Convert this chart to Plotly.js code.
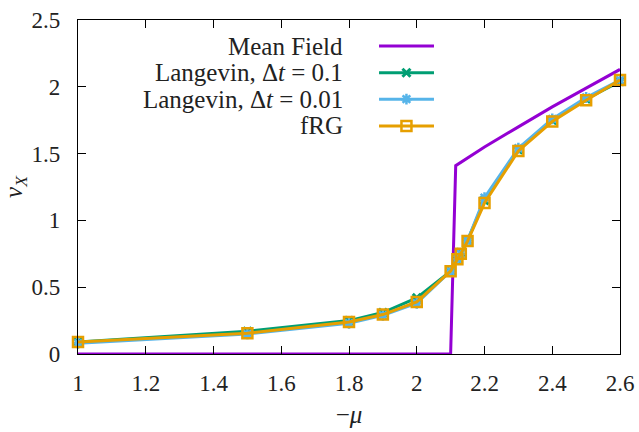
<!DOCTYPE html>
<html>
<head>
<meta charset="utf-8">
<script src="https://cdn.plot.ly/plotly-3.0.1.min.js"></script>
<style>
html,body{margin:0;padding:0;background:#fff;}
#chart{width:639px;height:432px;}
</style>
</head>
<body>
<div id="chart"></div>
<script>
// ---- data ----
const muMF = [1, 2.1, 2.115, 2.15, 2.2, 2.3, 2.4, 2.5, 2.6];
const nuMF = [0, 0, 1.41, 1.47, 1.55, 1.70, 1.85, 1.99, 2.13];

const mu = [1, 1.5, 1.8, 1.9, 2.0, 2.1, 2.12, 2.13, 2.15, 2.2, 2.3, 2.4, 2.5, 2.6];
const nuLang01  = [0.09, 0.17, 0.25, 0.31, 0.42, 0.62, 0.71, 0.76, 0.85, 1.15, 1.53, 1.75, 1.91, 2.04];
const nuLang001 = [0.08, 0.15, 0.23, 0.29, 0.38, 0.62, 0.71, 0.75, 0.85, 1.17, 1.54, 1.76, 1.92, 2.05];
const nuFRG     = [0.09, 0.155, 0.24, 0.295, 0.39, 0.62, 0.71, 0.75, 0.845, 1.13, 1.52, 1.74, 1.90, 2.05];

const seriesNames = ['Mean Field', 'Langevin, Δ<i>t</i> = 0.1', 'Langevin, Δ<i>t</i> = 0.01', 'fRG'];
const colors = ['#9400d3', '#009e73', '#56b4e9', '#e69f00'];
const symbols = [null, 'x-thin-open', 'asterisk-open', 'square-open'];
const xTicks = [1, 1.2, 1.4, 1.6, 1.8, 2, 2.2, 2.4, 2.6];
const xTickText = ['1', '1.2', '1.4', '1.6', '1.8', '2', '2.2', '2.4', '2.6'];
const yTicks = [0, 0.5, 1, 1.5, 2, 2.5];
const yTickText = ['0', '0.5', '1', '1.5', '2', '2.5'];

const FONT = 'Liberation Serif';
const markerStyle = [
  null,
  {symbol: symbols[1], size: 8, line: {width: 3, color: colors[1]}, color: colors[1]},
  {symbol: symbols[2], size: 9, line: {width: 2.5, color: colors[2]}, color: colors[2]},
  {symbol: symbols[3], size: 10, line: {width: 2.5, color: colors[3]}, color: colors[3]}
];

const traces = [
  {x: muMF, y: nuMF, mode: 'lines', line: {color: colors[0], width: 3}, showlegend: false, cliponaxis: false},
  {x: mu, y: nuLang01, mode: 'lines+markers', line: {color: colors[1], width: 3}, marker: markerStyle[1], showlegend: false, cliponaxis: false},
  {x: mu, y: nuLang001, mode: 'lines+markers', line: {color: colors[2], width: 3}, marker: markerStyle[2], showlegend: false, cliponaxis: false},
  {x: mu, y: nuFRG, mode: 'lines+markers', line: {color: colors[3], width: 3}, marker: markerStyle[3], showlegend: false, cliponaxis: false}
];

// ---- manual gnuplot-style legend (text on the left, key on the right) ----
const legTextX = 0.4926, legLine0 = 0.5554, legLine1 = 0.6568, legMark = 0.606;
const legY = [0.922, 0.842, 0.763, 0.683];
const shapes = [];
const annotations = [];
for (let i = 0; i < seriesNames.length; i++) {
  shapes.push({type: 'line', xref: 'paper', yref: 'paper', x0: legLine0, x1: legLine1, y0: legY[i], y1: legY[i],
    line: {color: colors[i], width: 3}});
  annotations.push({xref: 'paper', yref: 'paper', x: legTextX, y: legY[i], xanchor: 'right', yanchor: 'middle',
    text: seriesNames[i], showarrow: false, font: {family: FONT, size: 25, color: '#222'}});
  if (markerStyle[i]) {
    traces.push({x: [legMark], y: [legY[i]], xaxis: 'x2', yaxis: 'y2', mode: 'markers', marker: markerStyle[i],
      showlegend: false, hoverinfo: 'skip', cliponaxis: false});
  }
}

const axisCommon = {
  showgrid: false, zeroline: false, showline: true, linecolor: '#000', linewidth: 1.2,
  mirror: 'allticks', ticks: 'inside', ticklen: 8, tickwidth: 1, tickcolor: '#000',
  tickfont: {family: FONT, size: 23, color: '#222'}, tickmode: 'array'
};

const layout = {
  width: 639, height: 432,
  margin: {l: 78, r: 19, t: 20, b: 78},
  paper_bgcolor: '#fff', plot_bgcolor: '#fff',
  showlegend: false,
  xaxis: Object.assign({}, axisCommon, {range: [1, 2.6], tickvals: xTicks, ticktext: xTickText, ticklabelstandoff: 8,
    title: {text: '−<i>μ</i>', font: {family: FONT, size: 25, color: '#222'}, standoff: 10}}),
  yaxis: Object.assign({}, axisCommon, {range: [0, 2.5], tickvals: yTicks, ticktext: yTickText, ticklabelstandoff: 12,
    title: {text: '<i>ν</i><sub><i>X</i></sub>', font: {family: FONT, size: 25, color: '#222'}, standoff: 8}}),
  xaxis2: {overlaying: 'x', range: [0, 1], visible: false, fixedrange: true},
  yaxis2: {overlaying: 'y', range: [0, 1], visible: false, fixedrange: true},
  shapes: shapes,
  annotations: annotations
};

Plotly.newPlot('chart', traces, layout, {displayModeBar: false});
</script>
</body>
</html>
